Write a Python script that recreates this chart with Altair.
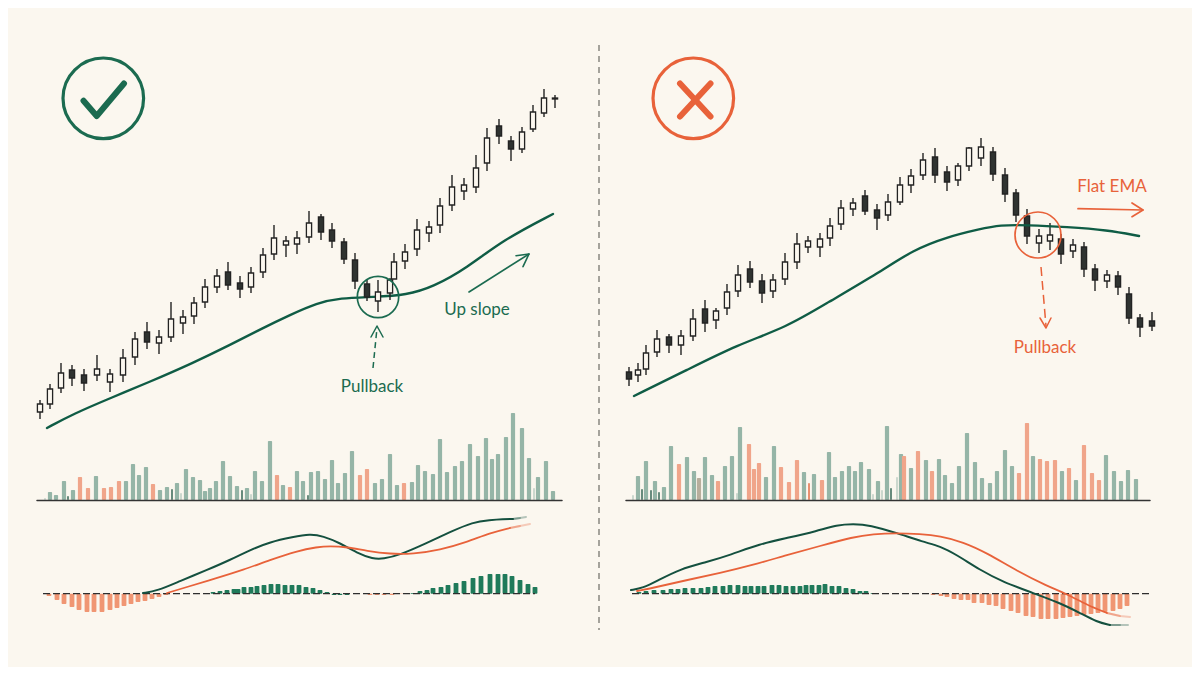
import altair as alt
import pandas as pd

# ---------- left panel candles ----------
L_x = [40,50,61,72,84,97,110,123,135,147,159,171,183,194,205,217,228,240,251,263,274,286,297,309,321,332,344,355,367,378,390,394,405,417,429,440,452,464,476,487,499,511,522,533,544,555]
L_hi = [400,384,363,365,369,355,369,349,332,322,330,302,310,297,279,269,262,276,267,248,225,236,231,211,214,223,238,253,279,280,278,253,244,219,221,198,175,178,155,128,119,136,127,105,89,95]
L_top = [404,389,373,370,375,369,374,358,339,332,337,319,317,303,287,276,272,283,273,255,238,241,238,223,217,230,242,260,284,292,280,262,252,230,227,206,187,185,168,138,126,141,132,112,98,98]
L_bot = [412,404,388,378,383,375,382,375,357,342,343,337,323,316,302,287,285,289,287,272,254,245,244,237,232,241,259,281,297,301,293,279,261,249,233,225,205,191,187,163,136,149,149,129,113,99]
L_lo = [419,409,393,386,391,381,392,382,365,349,354,342,334,324,308,293,290,298,293,278,260,257,254,243,240,248,264,289,301,312,300,279,269,256,242,233,211,200,193,171,144,161,153,132,117,108]
L_dark = [0,0,0,1,1,0,0,0,0,1,0,0,0,0,0,0,1,1,0,0,0,0,0,0,1,1,1,1,1,0,0,0,0,0,0,0,0,0,0,0,1,1,0,0,0,1]

# ---------- right panel candles ----------
R_x = [629,638,646,657,669,681,693,705,716,727,738,750,762,773,785,797,808,820,830,841,853,865,877,888,900,911,923,935,947,958,969,981,993,1005,1016,1027,1039,1050,1061,1073,1084,1095,1107,1118,1129,1140,1152]
R_hi = [367,363,345,330,334,330,309,300,308,284,265,261,274,274,253,233,236,233,218,200,198,190,204,194,177,169,153,148,166,163,147,138,147,168,189,209,229,223,234,239,242,264,270,271,287,314,312]
R_top = [372,370,353,339,337,336,319,309,311,292,275,269,281,280,262,244,241,239,226,208,203,196,210,202,185,176,160,157,172,166,148,147,152,175,193,216,236,235,239,245,247,269,275,276,294,318,321]
R_bot = [379,375,369,352,345,345,336,323,320,308,291,282,293,291,279,262,247,247,238,224,209,211,218,215,202,185,175,175,182,180,166,158,174,194,215,236,243,241,254,251,269,280,281,287,318,327,326]
R_lo = [386,382,375,357,353,355,341,332,329,315,297,288,303,298,285,269,253,257,246,230,216,215,230,221,205,193,180,183,191,186,171,166,181,202,222,244,253,250,264,258,277,291,288,295,324,337,331]
R_dark = [1,0,0,0,1,0,0,1,0,0,0,1,1,0,0,0,0,0,0,0,0,1,1,0,0,0,0,1,1,0,0,0,1,1,1,1,0,0,1,0,1,1,0,1,1,1,1]

# ---------- EMA lines ----------
L_ema_x = [47,73,113,147,193,230,263,290,317,340,373,407,433,467,503,553]
L_ema_y = [428,414,397,383,363,345,328,315,303,298,297,295,287,268,240,214]
R_ema_x = [634,687,737,787,827,880,913,947,980,1000,1027,1067,1107,1139]
R_ema_y = [396,370,345,327,303,272,250,237,229,225,225,227,230,236]

# ---------- volume ----------
L_vol_x = [45,50,56,64,68,73,80,88,96,104,111,119,126,133,139,146,153,160,167,172,177,181,186,193,200,205,210,216,223,230,237,242,247,251,255,262,270,277,283,290,297,303,308,311,318,325,332,338,345,352,360,367,375,382,390,397,404,412,418,425,433,440,447,455,462,470,478,486,492,498,506,513,522,529,534,538,546,553]
L_vol_top = [498,492,495,481,496,490,477,488,476,488,487,481,481,464,475,467,484,490,487,489,483,493,469,477,480,491,488,481,461,476,486,490,488,494,471,481,441,475,485,487,471,481,495,472,471,479,460,483,473,451,475,469,483,479,454,485,483,482,465,471,474,439,472,466,461,444,456,438,459,454,437,413,428,458,488,477,461,491]
L_vol_kind = ["l","g","g","g","d","g","o","o","g","o","o","o","g","g","g","g","o","g","g","d","g","l","g","g","g","g","g","g","g","g","g","d","g","l","g","g","g","o","g","o","g","g","d","g","g","g","g","g","g","g","o","o","g","g","g","g","o","g","g","g","g","g","g","g","g","g","g","g","g","g","g","g","g","g","l","g","g","g"]

R_vol_x = [633,638,642,646,651,655,659,664,671,679,687,694,699,705,712,718,725,732,737,740,749,754,759,766,774,781,789,797,804,809,814,822,829,835,842,849,855,861,869,873,878,882,887,891,897,901,904,911,918,926,932,939,945,952,959,967,975,982,990,997,1005,1012,1019,1027,1033,1040,1047,1055,1062,1069,1076,1084,1092,1099,1106,1114,1121,1128,1136]
R_vol_top = [495,476,489,461,490,481,492,487,446,464,457,471,478,457,475,481,466,456,493,427,444,469,463,477,446,467,482,460,472,483,474,480,452,477,471,466,471,462,469,494,481,490,426,488,477,454,456,468,451,460,471,459,475,483,466,433,462,478,483,471,450,466,473,423,456,459,461,460,471,468,480,445,473,480,455,471,481,470,479]
R_vol_kind = ["l","g","d","g","d","g","d","g","g","o","g","g","t","g","g","o","g","g","l","g","o","o","o","g","g","o","o","o","g","n","g","o","g","g","g","g","g","g","g","l","g","l","g","d","l","g","o","g","o","g","o","g","g","g","g","g","g","g","g","g","g","g","o","o","g","o","o","o","g","o","g","o","o","o","g","g","g","g","g"]

# ---------- MACD histogram ----------
L_hist_x = [49,57,64,72,79,87,94,102,110,117,124,131,138,145,152,159,166,213,220,227,234,238,244,251,257,264,271,278,285,292,299,306,313,320,327,334,340,347,370,377,384,392,401,413,420,427,433,441,448,456,464,473,481,490,498,505,512,520,528,535]
L_hist_end = [596,600,604,607,610,612,612,612,610,608,606,604,602,601,599,597,595,592,591,590,589,589,587,587,586,585,584,584,585,585,585,587,588,590,592,595,595,595,595,595,595,595,594,593,591,590,588,587,585,583,581,578,576,574,574,574,576,580,584,587]
L_hist_kind = ["o"]*17 + ["g"]*21 + ["o"]*5 + ["g"]*17

R_hist_x = [639,646,654,663,671,678,685,693,701,708,715,723,730,738,745,751,758,764,772,779,786,793,800,806,812,819,825,832,839,846,853,860,866,873,933,941,947,954,961,968,974,982,989,996,1003,1011,1018,1026,1033,1041,1048,1056,1063,1070,1077,1084,1091,1098,1105,1113,1120,1127]
R_hist_end = [592,591,590,590,589,589,588,588,588,587,586,586,585,585,586,586,586,586,585,585,586,586,586,585,585,585,584,586,586,588,589,591,591,593,595,596,597,599,600,600,603,603,605,606,609,611,613,616,617,619,619,619,618,617,616,615,614,613,612,611,609,606]
R_hist_kind = ["g"]*34 + ["o"]*28

# ---------- MACD lines ----------
L_macd_x = [143,157,180,207,230,250,270,293,310,323,340,357,373,383,400,427,450,473,490,503,513,513]
L_macd_y = [593,591,581,570,560,550,542,537,534,536,543,553,559,559,555,543,532,522,520,519,519,519]
L_sig_x = [167,187,217,243,270,297,317,330,347,367,390,413,440,467,490,510,510]
L_sig_y = [593,587,578,570,560,551,547,546,547,551,554,554,550,542,533,528,528]
L_macd_tail_x = [513,520,526]
L_macd_tail_y = [519,518,517]
L_sig_tail_x = [510,520,530]
L_sig_tail_y = [528,526,524]
R_macd_x = [631,643,657,680,707,730,760,787,817,837,853,870,897,923,940,957,980,1003,1033,1060,1080,1097,1110,1110]
R_macd_y = [590,588,581,569,562,555,544,538,531,525,524,525,533,542,546,555,570,582,593,603,613,622,625,625]
R_sig_x = [637,657,687,720,753,787,820,853,873,897,920,940,963,987,1017,1047,1067,1087,1107,1107]
R_sig_y = [591,587,580,573,565,555,546,537,534,533,534,536,542,553,571,586,594,605,613,613]
R_macd_tail_x = [1110,1120,1128]
R_macd_tail_y = [625,625,625]
R_sig_tail_x = [1107,1120,1130]
R_sig_tail_y = [613,616,617]

# ---------- annotations ----------
texts = ["Pullback", "Up slope", "Pullback", "Flat EMA"]
text_x = [372, 477, 1045, 1112]
text_y = [387, 310, 348, 187]

BG = "#FBF7EF"
GREEN = "#1B6B50"
DARKG = "#14503F"
ORANGE = "#E8623A"
INK = "#232323"

xs_ = alt.Scale(domain=[8, 1192], nice=False)
ys_ = alt.Scale(domain=[667, 8], nice=False)
X = alt.X("x:Q", scale=xs_, axis=None)
X2 = alt.X2("x2:Q")
Y = alt.Y("y:Q", scale=ys_, axis=None)
Y2 = alt.Y2("y2:Q")


def path(xs, ys, color, width, dash=None, interp="linear", opacity=1.0):
    df = pd.DataFrame({"x": xs, "y": ys, "o": range(len(xs))})
    kw = dict(color=color, strokeWidth=width, interpolate=interp, opacity=opacity, strokeCap="round", strokeJoin="round")
    if dash:
        kw["strokeDash"] = dash
        kw["strokeCap"] = "butt"
    return alt.Chart(df).mark_line(**kw).encode(x=X, y=Y, order="o:Q")


def ring(cx, cy, r, color, width):
    df = pd.DataFrame({"x": [cx], "y": [cy]})
    return alt.Chart(df).mark_point(filled=False, shape="circle", size=4 * r * r, color=color, strokeWidth=width, opacity=1).encode(x=X, y=Y)


def candles(xs, hi, top, bot, lo, dark):
    df = pd.DataFrame({"x": xs, "hi": hi, "top": top, "bot": bot, "lo": lo, "dark": dark})
    df["xa"] = df.x - 2.6
    df["xb"] = df.x + 2.6
    wick = alt.Chart(df).mark_rule(color=INK, strokeWidth=1.4).encode(
        x=X, y=alt.Y("hi:Q", scale=ys_, axis=None), y2="lo:Q")
    body = alt.Chart(df).mark_rect(stroke=INK, strokeWidth=1.3).encode(
        x=alt.X("xa:Q", scale=xs_, axis=None), x2="xb:Q",
        y=alt.Y("top:Q", scale=ys_, axis=None), y2="bot:Q",
        fill=alt.Fill("dark:N", scale=alt.Scale(domain=[0, 1], range=[BG, "#2F3331"]), legend=None))
    return wick + body


def bars(xs, ends, kinds, base, half, colors, thin=()):
    df = pd.DataFrame({"c": xs, "y": ends, "k": kinds})
    df["h"] = [half * 0.45 if k in thin else half for k in kinds]
    df["x"] = df.c - df.h
    df["x2"] = df.c + df.h
    df["y2"] = base
    return alt.Chart(df).mark_rect(cornerRadius=0.8).encode(
        x=X, x2=X2, y=Y, y2=Y2,
        fill=alt.Fill("k:N", scale=alt.Scale(domain=list(colors), range=list(colors.values())), legend=None))


vol_colors = {"g": "#95B5A7", "o": "#F0A58A", "l": "#C9D6CC", "t": "#B8AE9C", "d": "#5F8475", "n": "#E98A68"}
hist_colors = {"g": "#1F7A5A", "o": "#F09673"}

layers = []
# divider
layers.append(path([599, 599], [45, 630], "#77776F", 1.3, dash=[6, 5]))

# badges
layers.append(ring(103.3, 98.3, 40.3, GREEN, 3.2))
layers.append(path([83.5, 96.7, 124], [100.7, 116, 83.5], GREEN, 6))
layers.append(ring(693.3, 98.3, 40.3, ORANGE, 3.2))
layers.append(path([680, 710.5], [83.5, 116.5], ORANGE, 6))
layers.append(path([710.5, 680], [83.5, 116.5], ORANGE, 6))

# EMA then candles
layers.append(path(L_ema_x, L_ema_y, "#0F5C45", 2.4, interp="basis"))
layers.append(candles(L_x, L_hi, L_top, L_bot, L_lo, L_dark))
layers.append(candles(R_x, R_hi, R_top, R_bot, R_lo, R_dark))
layers.append(path(R_ema_x, R_ema_y, "#0F5C45", 2.4, interp="basis"))

# circles and arrows
layers.append(ring(378, 297, 20.7, GREEN, 1.7))
layers.append(ring(1038, 235, 23, ORANGE, 1.7))
layers.append(path([373, 377], [368, 328], GREEN, 1.5, dash=[6, 4]))
layers.append(path([371, 377, 383], [337, 326, 337], GREEN, 1.5))
layers.append(path([469, 529], [292, 254], GREEN, 1.6))
layers.append(path([516, 529, 523], [255.7, 254, 266.7], GREEN, 1.6))
layers.append(path([1041, 1046], [267, 326], ORANGE, 1.5, dash=[9, 5]))
layers.append(path([1040, 1046, 1051], [318, 328, 318], ORANGE, 1.5))
layers.append(path([1078, 1143], [208.7, 210], ORANGE, 1.7))
layers.append(path([1132, 1143, 1132], [203, 210, 216.7], ORANGE, 1.7))

# volume
layers.append(bars(L_vol_x, L_vol_top, L_vol_kind, 500, 2.1, vol_colors, thin=("d", "l")))
layers.append(bars(R_vol_x, R_vol_top, R_vol_kind, 500, 2.1, vol_colors, thin=("d", "l", "n")))
layers.append(path([37, 562], [500.5, 500.5], "#333", 1.5))
layers.append(path([626, 1150], [500.5, 500.5], "#333", 1.5))

# MACD histogram
layers.append(bars(L_hist_x, L_hist_end, L_hist_kind, 593.7, 2.4, hist_colors))
layers.append(bars(R_hist_x, R_hist_end, R_hist_kind, 593.7, 2.4, hist_colors))
layers.append(path([43, 535], [593.7, 593.7], "#2E2E2E", 1.3, dash=[7, 3]))
layers.append(path([632, 1150], [593.7, 593.7], "#2E2E2E", 1.3, dash=[7, 3]))

# MACD lines
layers.append(path(L_macd_x, L_macd_y, DARKG, 2, interp="basis"))
layers.append(path(L_sig_x, L_sig_y, ORANGE, 1.8, interp="basis"))
layers.append(path(R_macd_x, R_macd_y, DARKG, 2, interp="basis"))
layers.append(path(R_sig_x, R_sig_y, ORANGE, 1.8, interp="basis"))
for tx, ty, col in [(L_macd_tail_x, L_macd_tail_y, DARKG), (L_sig_tail_x, L_sig_tail_y, ORANGE),
                    (R_macd_tail_x, R_macd_tail_y, DARKG), (R_sig_tail_x, R_sig_tail_y, ORANGE)]:
    layers.append(path(tx, ty, col, 2, opacity=0.3))
    layers.append(path(tx[:2], ty[:2], col, 2, opacity=0.35))

# annotations
tdf = pd.DataFrame({"x": text_x, "y": text_y, "t": texts, "k": ["g", "g", "o", "o"]})
layers.append(alt.Chart(tdf).mark_text(font="Lato", fontSize=17, align="center", baseline="middle").encode(
    x=X, y=Y, text="t:N",
    color=alt.Color("k:N", scale=alt.Scale(domain=["g", "o"], range=[GREEN, ORANGE]), legend=None)))

chart = alt.layer(*layers).resolve_scale(fill="independent", color="independent").properties(
    width=1184, height=659, background=BG, padding=0,
).configure_view(stroke=None)

chart.save("out.html", embed_options={"renderer": "svg", "actions": False})
